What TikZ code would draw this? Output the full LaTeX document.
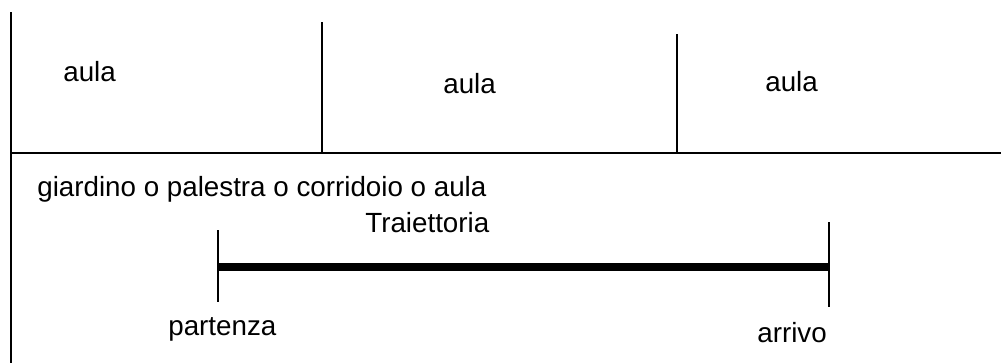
\documentclass[tikz,border=0pt]{standalone}
\usepackage{fontspec}
\setmainfont{Liberation Sans}

\tikzset{
  wall/.style={line width=0.8pt},
  traj/.style={line width=4.4pt},
  label/.style={anchor=base west, inner sep=0pt, font=\fontsize{15.8pt}{18pt}\selectfont}
}

\begin{document}
\begin{tikzpicture}[x=0.02cm, y=-0.02cm]
\useasboundingbox (0,0) rectangle (1001,363);

% Draw the walls
\draw[wall] (11,12) -- (11,363);
\draw[wall] (11,153) -- (1001,153);
\draw[wall] (322,22) -- (322,153);
\draw[wall] (677,34) -- (677,153);

% Rooms
\node[label] (aula1) at (63,81) {aula};
\node[label] (aula2) at (443,93) {aula};
\node[label] (aula3) at (765,91) {aula};
\node[label] (zona) at (37,196) {giardino o palestra o corridoio o aula};

% Ticks and the path
\coordinate (p1) at (218,230);
\coordinate (p2) at (218,302);
\coordinate (a1) at (829,222);
\coordinate (a2) at (829,307);
\coordinate (start) at (218,267);
\coordinate (end) at (829,267);
\draw[wall] (p1) -- (p2);
\draw[wall] (a1) -- (a2);
\draw[traj] (start) -- (end);

\node[label] (traiettoria) at (365,232) {Traiettoria};
\node[label] (partenza) at (168,335) {partenza};
\node[label] (arrivo) at (757,342) {arrivo};
\end{tikzpicture}
\end{document}
